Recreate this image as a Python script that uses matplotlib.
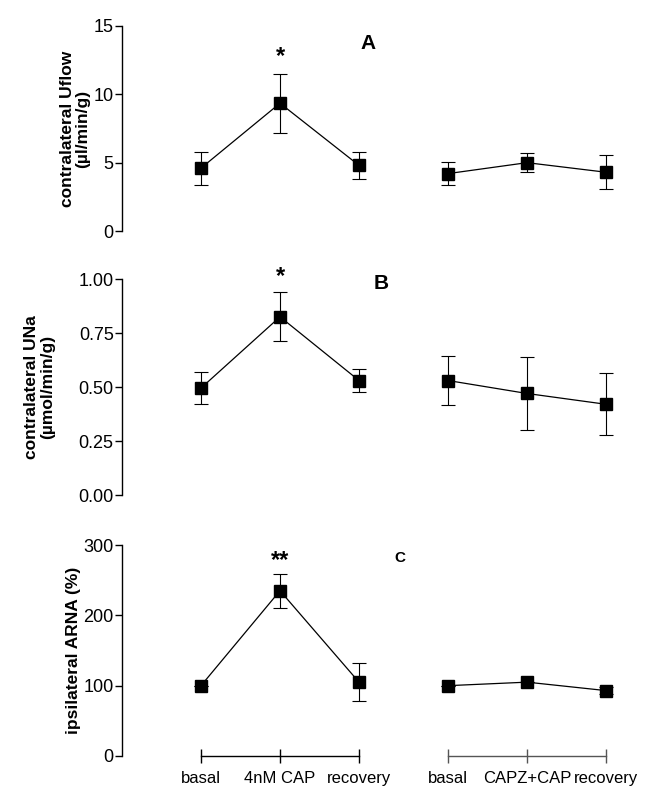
import numpy as np
import matplotlib
matplotlib.use("Agg")
import matplotlib.pyplot as plt

plt.rcParams['font.family'] = ['Liberation Sans', 'DejaVu Sans']

conditions_1 = ['basal', '4nM CAP', 'recovery']
conditions_2 = ['basal', 'CAPZ+CAP', 'recovery']

# panel A: contralateral Uflow (µl/min/g)
uflow_1 = [4.6, 9.35, 4.8]
uflow_1_err = [1.2, 2.15, 1.0]
uflow_2 = [4.2, 5.0, 4.3]
uflow_2_err = [0.85, 0.7, 1.25]

# panel B: contralateral UNa (µmol/min/g)
una_1 = [0.495, 0.825, 0.53]
una_1_err = [0.075, 0.113, 0.055]
una_2 = [0.53, 0.47, 0.42]
una_2_err = [0.113, 0.17, 0.143]

# panel C: ipsilateral ARNA (%)
arna_1 = [100, 235, 105]
arna_1_err = [0, 24, 27]
arna_2 = [100, 105, 93]
arna_2_err = [0, 0, 5]

step_px = 79
gap_px = 89
x1 = np.arange(3)
x2 = x1[-1] + gap_px / step_px + np.arange(3)

fig = plt.figure(figsize=(6.59, 8.02), dpi=100)
W, H = 659, 802
left = 122 / W
width = (646 - 122) / W


def make_ax(top_px, bot_px):
    ax = fig.add_axes([left, 1 - bot_px / H, width, (bot_px - top_px) / H])
    ax.set_xlim(-1, -1 + (646 - 122) / step_px)
    for s in ['top', 'right', 'bottom']:
        ax.spines[s].set_visible(False)
    ax.spines['left'].set_linewidth(1.0)
    ax.set_xticks([])
    ax.tick_params(axis='y', labelsize=13, length=5, width=1.0, pad=1)
    return ax


def draw(ax, xs, ys, err):
    ax.errorbar(xs, ys, yerr=err, color='black', lw=0.9, marker='s', ms=8,
                mfc='black', mec='black', capsize=5, elinewidth=0.8,
                capthick=0.8, clip_on=False)


# A
axA = make_ax(26, 231)
axA.set_ylim(0, 15)
axA.set_yticks([0, 5, 10, 15])
draw(axA, x1, uflow_1, uflow_1_err)
draw(axA, x2, uflow_2, uflow_2_err)
axA.set_ylabel('contralateral Uflow\n(µl/min/g)', fontsize=12.5, fontweight='bold', linespacing=1.05)
axA.yaxis.set_label_coords(-0.060, 0.5)
axA.text(x1[1], uflow_1[1] + uflow_1_err[1] + 0.4, '*', ha='center', va='bottom',
         fontsize=17, fontweight='bold')
axA.text(1.0 + 88 / step_px, 13.7, 'A', ha='center', va='center', fontsize=15, fontweight='bold')

# B
axB = make_ax(279, 495)
axB.set_ylim(0, 1.0)
axB.set_yticks([0, 0.25, 0.5, 0.75, 1.0])
axB.set_yticklabels(['0.00', '0.25', '0.50', '0.75', '1.00'])
draw(axB, x1, una_1, una_1_err)
draw(axB, x2, una_2, una_2_err)
axB.set_ylabel('contralateral UNa\n(µmol/min/g)', fontsize=12.5, fontweight='bold', linespacing=1.05)
axB.yaxis.set_label_coords(-0.128, 0.5)
axB.text(x1[1], una_1[1] + una_1_err[1] + 0.02, '*', ha='center', va='bottom',
         fontsize=17, fontweight='bold')
axB.text(1.0 + 101 / step_px, 0.98, 'B', ha='center', va='center', fontsize=15, fontweight='bold')

# C
axC = make_ax(545, 756)
axC.set_ylim(0, 300)
axC.set_yticks([0, 100, 200, 300])
draw(axC, x1, arna_1, arna_1_err)
draw(axC, x2, arna_2, arna_2_err)
axC.set_ylabel('ipsilateral ARNA (%)', fontsize=12.5, fontweight='bold')
axC.yaxis.set_label_coords(-0.078, 0.5)
axC.text(x1[1], arna_1[1] + arna_1_err[1] + 2, '**', ha='center', va='bottom',
         fontsize=17, fontweight='bold')
axC.text(1.0 + 120 / step_px, 282, 'C', ha='center', va='center', fontsize=11, fontweight='bold')

# group brackets along the bottom
for xs, labels, col in [(x1, conditions_1, 'black'), (x2, conditions_2, '#555555')]:
    axC.plot(xs, [0, 0, 0], color=col, lw=1.0, marker='|', ms=10, mew=1.0, clip_on=False)
    for xv, lab in zip(xs, labels):
        axC.annotate(lab, (xv, 0), xytext=(0, -11), textcoords='offset points',
                     ha='center', va='top', fontsize=12)

fig.savefig('out.png', dpi=100)
